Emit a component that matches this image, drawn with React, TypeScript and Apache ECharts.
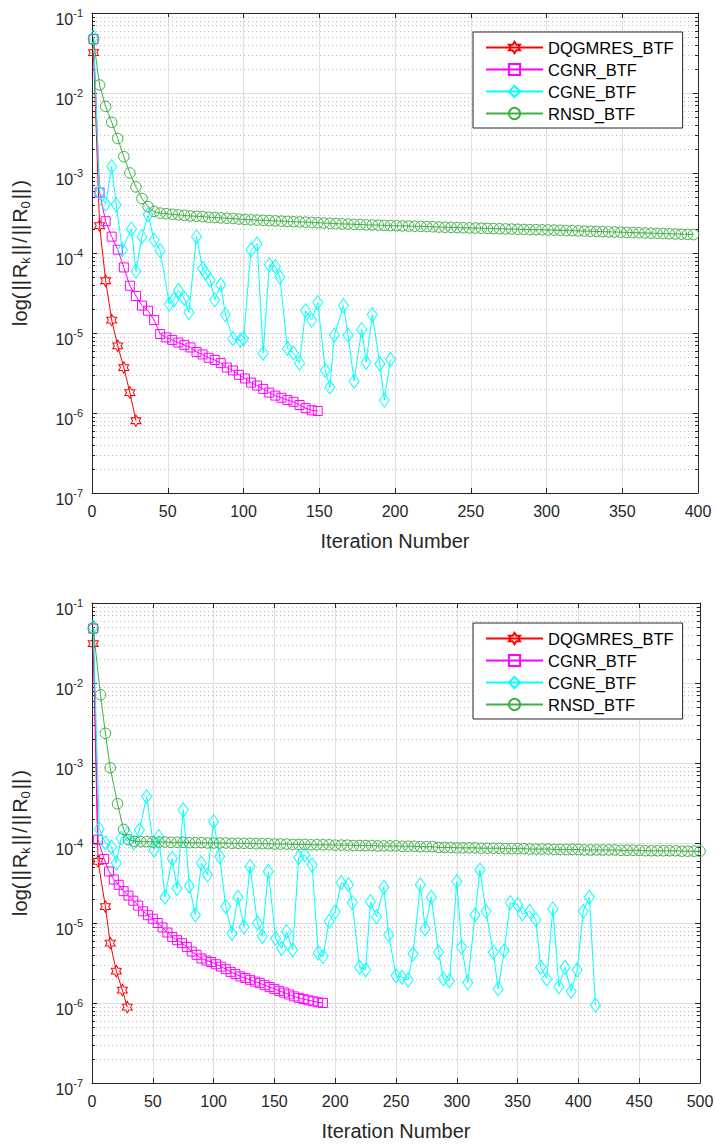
import React, { useEffect, useRef } from "react";
import * as echarts from "echarts";

// ---------- data (iteration, relative residual) ----------
const seriesNames = ["DQGMRES_BTF", "CGNR_BTF", "CGNE_BTF", "RNSD_BTF"];

const topDq: [number, number][] = [
  [1, 3.2e-2], [5, 2.2e-4], [9, 4.5e-5], [13, 1.45e-5], [17, 6.9e-6], [21, 3.7e-6], [25, 1.8e-6], [29, 8.0e-7],
];

const topCgnr: [number, number][] = [
  [1, 4.7e-2], [5, 5.7e-4], [9, 2.5e-4], [13, 1.6e-4], [17, 1.1e-4], [21, 6.6e-5], [25, 3.9e-5], [29, 2.9e-5],
  [33, 2.2e-5], [37, 1.9e-5], [41, 1.45e-5], [45, 9.7e-6], [49, 8.8e-6], [53, 8.2e-6], [57, 7.6e-6], [61, 7.1e-6],
  [65, 6.6e-6], [69, 5.8e-6], [73, 5.4e-6], [77, 4.9e-6], [81, 4.6e-6], [85, 4.2e-6], [89, 3.7e-6], [93, 3.4e-6],
  [97, 3.0e-6], [101, 2.7e-6], [105, 2.4e-6], [109, 2.2e-6], [113, 2.0e-6], [117, 1.8e-6], [121, 1.65e-6],
  [125, 1.55e-6], [129, 1.45e-6], [133, 1.38e-6], [137, 1.26e-6], [141, 1.15e-6], [145, 1.08e-6], [149, 1.06e-6],
];

const topCgne: [number, number][] = [
  [1, 5e-2], [5, 5.7e-4], [9, 4.1e-4], [13, 1.2e-3], [16, 4e-4], [20, 1.1e-4], [26, 2.0e-4], [29, 5.9e-5],
  [33, 1.6e-4], [37, 3.0e-4], [41, 1.45e-4], [45, 1.07e-4], [51, 2.3e-5], [54, 2.6e-5], [57, 3.4e-5], [61, 2.7e-5],
  [64, 1.8e-5], [69, 1.6e-4], [73, 6.4e-5], [75, 5.6e-5], [78, 4.6e-5], [81, 2.6e-5], [85, 4.0e-5], [88, 1.7e-5],
  [93, 8.5e-6], [98, 8.1e-6], [100, 8.5e-6], [105, 1.1e-4], [109, 1.3e-4], [113, 5.6e-6], [117, 7.1e-5],
  [121, 6.8e-5], [124, 5.0e-5], [129, 6.4e-6], [133, 5.6e-6], [137, 4.2e-6], [141, 1.9e-5], [145, 1.45e-5],
  [149, 2.4e-5], [154, 3.4e-6], [157, 2.1e-6], [160, 9.4e-6], [166, 2.2e-5], [169, 9.4e-6], [173, 2.5e-6],
  [178, 1.1e-5], [181, 4.3e-6], [185, 1.7e-5], [190, 4.1e-6], [193, 1.45e-6], [197, 4.7e-6],
];

const topRnsd: [number, number][] = [
  [1, 4.7e-2], [5, 1.26e-2], [9, 6.8e-3], [13, 4.3e-3], [17, 2.7e-3], [21, 1.6e-3], [25, 1.0e-3], [29, 6.7e-4],
  [33, 4.8e-4], [37, 3.8e-4], [41, 3.3e-4], [45, 3.15e-4], [49, 3.1e-4], [53, 3.05e-4], [57, 3.0e-4], [61, 2.95e-4],
  [65, 2.9e-4], [69, 2.88e-4], [73, 2.85e-4], [77, 2.8e-4], [81, 2.78e-4], [85, 2.75e-4], [89, 2.72e-4], [93, 2.7e-4],
  [97, 2.66e-4], [101, 2.62e-4], [105, 2.6e-4], [109, 2.58e-4], [113, 2.56e-4], [117, 2.54e-4], [121, 2.52e-4],
  [125, 2.5e-4], [129, 2.48e-4], [133, 2.46e-4], [137, 2.45e-4], [141, 2.43e-4], [145, 2.41e-4], [149, 2.39e-4],
  [153, 2.37e-4], [157, 2.35e-4], [161, 2.33e-4], [165, 2.31e-4], [169, 2.3e-4], [173, 2.28e-4], [177, 2.27e-4],
  [181, 2.25e-4], [185, 2.24e-4], [189, 2.23e-4], [193, 2.21e-4], [197, 2.2e-4], [201, 2.19e-4], [205, 2.18e-4],
  [209, 2.17e-4], [213, 2.16e-4], [217, 2.15e-4], [221, 2.14e-4], [225, 2.13e-4], [229, 2.11e-4], [233, 2.1e-4],
  [237, 2.09e-4], [241, 2.08e-4], [245, 2.07e-4], [249, 2.06e-4], [253, 2.05e-4], [257, 2.04e-4], [261, 2.03e-4],
  [265, 2.02e-4], [269, 2.01e-4], [273, 2.0e-4], [277, 1.99e-4], [281, 1.98e-4], [285, 1.97e-4], [289, 1.96e-4],
  [293, 1.96e-4], [297, 1.95e-4], [301, 1.94e-4], [305, 1.93e-4], [309, 1.92e-4], [313, 1.91e-4], [317, 1.9e-4],
  [321, 1.89e-4], [325, 1.88e-4], [329, 1.87e-4], [333, 1.86e-4], [337, 1.85e-4], [341, 1.84e-4], [345, 1.83e-4],
  [349, 1.82e-4], [353, 1.81e-4], [357, 1.8e-4], [361, 1.79e-4], [365, 1.78e-4], [369, 1.77e-4], [373, 1.76e-4],
  [377, 1.75e-4], [381, 1.74e-4], [385, 1.73e-4], [389, 1.72e-4], [393, 1.71e-4], [397, 1.7e-4],
];

const botDq: [number, number][] = [
  [1, 3.1e-2], [5, 5.9e-5], [11, 1.6e-5], [15, 5.6e-6], [20, 2.5e-6], [25, 1.45e-6], [29, 8.9e-7],
];

const botCgnr: [number, number][] = [
  [1, 4.8e-2], [5, 1.1e-4], [10, 6.3e-5], [14, 4.4e-5], [18, 3.5e-5], [22, 3.0e-5], [26, 2.5e-5], [30, 2.2e-5],
  [34, 1.9e-5], [38, 1.65e-5], [42, 1.4e-5], [46, 1.25e-5], [50, 1.13e-5], [54, 1.0e-5], [58, 8.8e-6], [62, 7.6e-6],
  [66, 6.7e-6], [70, 6.1e-6], [74, 5.6e-6], [78, 5.0e-6], [82, 4.4e-6], [86, 4.0e-6], [90, 3.6e-6], [94, 3.4e-6],
  [98, 3.25e-6], [102, 3.05e-6], [106, 2.85e-6], [110, 2.65e-6], [114, 2.45e-6], [118, 2.3e-6], [122, 2.15e-6],
  [126, 2.05e-6], [130, 1.95e-6], [134, 1.85e-6], [138, 1.77e-6], [142, 1.67e-6], [146, 1.58e-6], [150, 1.5e-6],
  [154, 1.42e-6], [158, 1.35e-6], [162, 1.28e-6], [166, 1.21e-6], [170, 1.16e-6], [174, 1.12e-6], [178, 1.08e-6],
  [182, 1.05e-6], [186, 1.02e-6], [190, 1.0e-6],
];

const botCgne: [number, number][] = [
  [1, 5e-2], [6, 1.5e-4], [11, 1.0e-4], [16, 8.9e-5], [20, 5.6e-5], [24, 1.15e-4], [29, 1.3e-4], [34, 1.0e-4],
  [39, 1.45e-4], [45, 3.8e-4], [51, 8.2e-5], [55, 1.2e-4], [60, 2.1e-5], [66, 6.4e-5], [70, 2.7e-5], [75, 2.6e-4],
  [80, 2.9e-5], [85, 1.26e-5], [90, 5.6e-5], [95, 4.0e-5], [100, 1.85e-4], [105, 6.8e-5], [110, 1.6e-5],
  [115, 7.4e-6], [120, 2.1e-5], [125, 8.9e-6], [130, 5.1e-5], [136, 1.0e-5], [140, 6.8e-6], [145, 4.4e-5],
  [151, 6.4e-6], [156, 4.8e-6], [160, 7.8e-6], [165, 4.6e-6], [170, 6.6e-5], [175, 7.1e-5], [181, 5.3e-5],
  [186, 4.2e-6], [190, 3.8e-6], [195, 1.05e-5], [200, 1.38e-5], [205, 3.2e-5], [211, 3.0e-5], [214, 1.8e-5],
  [220, 2.8e-6], [225, 2.6e-6], [229, 1.85e-5], [234, 1.2e-5], [240, 2.8e-5], [244, 7.1e-6], [250, 2.2e-6],
  [255, 2.1e-6], [260, 1.95e-6], [264, 4.1e-6], [270, 3.0e-5], [274, 8.5e-6], [279, 2.1e-5], [285, 4.3e-6],
  [289, 2.0e-6], [294, 1.9e-6], [300, 3.3e-5], [304, 5.0e-6], [309, 1.8e-6], [315, 1.26e-5], [319, 4.6e-5],
  [324, 1.4e-5], [330, 4.3e-6], [334, 1.5e-6], [339, 4.5e-6], [344, 1.8e-5], [350, 1.7e-5], [354, 1.3e-5],
  [360, 1.4e-5], [365, 1.1e-5], [369, 2.8e-6], [374, 2.0e-6], [379, 1.5e-5], [384, 1.6e-6], [389, 2.8e-6],
  [394, 1.4e-6], [399, 2.6e-6], [404, 1.4e-5], [409, 2.1e-5], [414, 9.4e-7],
];

const botRnsd: [number, number][] = [
  [1, 4.8e-2], [7, 7.1e-3], [11, 2.35e-3], [15, 8.7e-4], [21, 3.1e-4], [26, 1.48e-4], [30, 1.1e-4], [35, 1.05e-4],
  [40, 1.04e-4], [45, 1.04e-4], [50, 1.03e-4], [55, 1.03e-4], [60, 1.03e-4], [65, 1.02e-4], [70, 1.02e-4],
  [75, 1.02e-4], [80, 1.01e-4], [85, 1.01e-4], [90, 1.01e-4], [95, 1.0e-4], [100, 1.0e-4], [105, 1.0e-4],
  [110, 1.0e-4], [115, 9.9e-5], [120, 9.9e-5], [125, 9.9e-5], [130, 9.9e-5], [135, 9.8e-5], [140, 9.8e-5],
  [145, 9.8e-5], [150, 9.7e-5], [155, 9.7e-5], [160, 9.7e-5], [165, 9.6e-5], [170, 9.6e-5], [175, 9.6e-5],
  [180, 9.5e-5], [185, 9.5e-5], [190, 9.5e-5], [195, 9.5e-5], [200, 9.4e-5], [205, 9.4e-5], [210, 9.4e-5],
  [215, 9.3e-5], [220, 9.3e-5], [225, 9.3e-5], [230, 9.3e-5], [235, 9.2e-5], [240, 9.2e-5], [245, 9.2e-5],
  [250, 9.2e-5], [255, 9.1e-5], [260, 9.1e-5], [265, 9.1e-5], [270, 9.0e-5], [275, 9.0e-5], [280, 9.0e-5],
  [285, 8.8e-5], [290, 8.8e-5], [295, 8.8e-5], [300, 8.7e-5], [305, 8.7e-5], [310, 8.7e-5], [315, 8.7e-5],
  [320, 8.6e-5], [325, 8.6e-5], [330, 8.6e-5], [335, 8.6e-5], [340, 8.5e-5], [345, 8.5e-5], [350, 8.5e-5],
  [355, 8.5e-5], [360, 8.4e-5], [365, 8.4e-5], [370, 8.4e-5], [375, 8.4e-5], [380, 8.3e-5], [385, 8.3e-5],
  [390, 8.3e-5], [395, 8.3e-5], [400, 8.3e-5], [405, 8.2e-5], [410, 8.2e-5], [415, 8.2e-5], [420, 8.2e-5],
  [425, 8.2e-5], [430, 8.2e-5], [435, 8.1e-5], [440, 8.1e-5], [445, 8.1e-5], [450, 8.1e-5], [455, 8.0e-5],
  [460, 8.0e-5], [465, 8.0e-5], [470, 8.0e-5], [475, 8.0e-5], [480, 8.0e-5], [485, 7.9e-5], [490, 7.9e-5],
  [495, 7.9e-5], [500, 7.9e-5],
];

const xMaxes = [400, 500];
const yRange = [1e-7, 1e-1];

// ---------- styling ----------
const FONT = '"Liberation Sans", Arial, Helvetica, sans-serif';
const AXIS = "#262626";
const COLORS = ["#ff0000", "#ff00ff", "#00ffff", "#3cb043"];
const HEXAGRAM =
  "path://M0,-10L2.887,-5L8.66,-5L5.774,0L8.66,5L2.887,5L0,10L-2.887,5L-8.66,5L-5.774,0L-8.66,-5L-2.887,-5Z";
const SYMBOLS: any[] = [HEXAGRAM, "rect", "diamond", "circle"];
const SIZES: any[] = [[10, 11.5], 9, [10, 14], 10.5];

const grids = [
  { left: 92, top: 13, width: 606, height: 480 },
  { left: 92, top: 603, width: 608, height: 480 },
];

function minorValues(): number[] {
  const out: number[] = [];
  for (let d = -7; d <= -2; d++) {
    for (let m = 2; m <= 9; m++) out.push(Number((m * Math.pow(10, d)).toPrecision(3)));
  }
  return out;
}

function lineSeries(name: string, idx: number, data: [number, number][], g: number) {
  const c = COLORS[idx];
  return {
    type: "line",
    name,
    xAxisIndex: g * 2,
    yAxisIndex: g * 2,
    data,
    symbol: SYMBOLS[idx],
    symbolSize: SIZES[idx],
    showSymbol: true,
    showAllSymbol: true,
    lineStyle: { color: c, width: 1 },
    itemStyle: { color: "rgba(255,255,255,0)", borderColor: c, borderWidth: 1 },
    emphasis: { disabled: true },
    z: 3 + idx,
  };
}

function minorSeries(g: number) {
  return {
    type: "custom",
    xAxisIndex: g * 2,
    yAxisIndex: g * 2,
    silent: true,
    z: 1,
    data: minorValues().map((v) => [0, v]),
    renderItem: (params: any, api: any) => {
      const cs = params.coordSys;
      const y = Math.round(api.coord([0, api.value(1)])[1]) + 0.5;
      return {
        type: "group",
        children: [
          {
            type: "line",
            shape: { x1: cs.x, y1: y, x2: cs.x + cs.width, y2: y },
            style: { stroke: "#bdbdbd", lineWidth: 1, lineDash: [1, 3] },
          },
          {
            type: "line",
            shape: { x1: cs.x, y1: y, x2: cs.x + 3, y2: y },
            style: { stroke: AXIS, lineWidth: 1 },
          },
          {
            type: "line",
            shape: { x1: cs.x + cs.width - 3, y1: y, x2: cs.x + cs.width, y2: y },
            style: { stroke: AXIS, lineWidth: 1 },
          },
        ],
      };
    },
  };
}

function buildOption() {
  const xAxis: any[] = [];
  const yAxis: any[] = [];
  const axisLine = { show: true, onZero: false, lineStyle: { color: AXIS, width: 1 } };
  const tick = { show: true, inside: true, length: 5, lineStyle: { color: AXIS, width: 1 } };
  grids.forEach((_, g) => {
    xAxis.push({
      type: "value",
      gridIndex: g,
      min: 0,
      max: xMaxes[g],
      interval: 50,
      position: "bottom",
      axisLine,
      axisTick: tick,
      axisLabel: { color: AXIS, fontSize: 16, fontFamily: FONT, margin: 10 },
      splitLine: { show: true, lineStyle: { color: "#dfdfdf", width: 1 } },
      name: "Iteration Number",
      nameLocation: "middle",
      nameGap: 38,
      nameTextStyle: { color: AXIS, fontSize: 20, fontFamily: FONT },
    });
    xAxis.push({
      type: "value",
      gridIndex: g,
      min: 0,
      max: xMaxes[g],
      interval: 50,
      position: "top",
      axisLine,
      axisTick: tick,
      axisLabel: { show: false },
      splitLine: { show: false },
    });
    yAxis.push({
      type: "log",
      logBase: 10,
      gridIndex: g,
      min: yRange[0],
      max: yRange[1],
      position: "left",
      axisLine,
      axisTick: tick,
      axisLabel: {
        margin: 9,
        formatter: (v: number) => `{b|10}{s|${Math.round(Math.log10(v))}}`,
        rich: {
          b: { fontSize: 16, lineHeight: 16, verticalAlign: "bottom", color: AXIS, fontFamily: FONT },
          s: { fontSize: 11, lineHeight: 28, verticalAlign: "middle", color: AXIS, fontFamily: FONT },
        },
      },
      splitLine: { show: true, lineStyle: { color: "#dfdfdf", width: 1 } },
      name: "{n|log(}{p|||}{n|R}{s|k}{p|||}{n|/}{p|||}{n|R}{s|0}{p|||}{n|)}",
      nameLocation: "middle",
      nameGap: 62,
      nameRotate: 90,
      nameTextStyle: {
        rich: {
          n: { fontSize: 20, lineHeight: 20, verticalAlign: "top", color: AXIS, fontFamily: FONT },
          p: { fontSize: 20, lineHeight: 20, verticalAlign: "top", padding: [0, 2, 0, 2], color: AXIS, fontFamily: FONT },
          s: { fontSize: 13, lineHeight: 13, padding: [9, 0, 0, 0], verticalAlign: "top", color: AXIS, fontFamily: FONT },
        },
      },
    });
    yAxis.push({
      type: "log",
      logBase: 10,
      gridIndex: g,
      min: yRange[0],
      max: yRange[1],
      position: "right",
      axisLine,
      axisTick: tick,
      axisLabel: { show: false },
      splitLine: { show: false },
    });
  });

  const legendBase = {
    data: seriesNames,
    orient: "vertical",
    left: 473,
    padding: [7, 9, 6, 12],
    itemWidth: 57,
    itemHeight: 14,
    itemGap: 5,
    backgroundColor: "#ffffff",
    borderColor: AXIS,
    borderWidth: 1,
    borderRadius: 0,
    selectedMode: false,
    textStyle: { fontSize: 16.5, color: "#000000", fontFamily: FONT },
  };

  const tops = [topDq, topCgnr, topCgne, topRnsd];
  const bots = [botDq, botCgnr, botCgne, botRnsd];
  const series: any[] = [minorSeries(0), minorSeries(1)];
  tops.forEach((d, i) => series.push(lineSeries(seriesNames[i], i, d, 0)));
  bots.forEach((d, i) => series.push(lineSeries(seriesNames[i], i, d, 1)));

  return {
    animation: false,
    backgroundColor: "#ffffff",
    grid: grids.map((g) => ({ ...g, containLabel: false, outerBoundsMode: "none" })),
    xAxis,
    yAxis,
    legend: [
      { ...legendBase, top: 32 },
      { ...legendBase, top: 623 },
    ],
    series,
  };
}

export default function App() {
  const ref = useRef<HTMLDivElement>(null);
  useEffect(() => {
    if (!ref.current) return;
    const chart = echarts.init(ref.current, undefined, { renderer: "svg" });
    chart.setOption(buildOption() as any);
    return () => chart.dispose();
  }, []);
  return (
    <div
      ref={ref}
      style={{ position: "absolute", left: 0, top: 0, width: 716, height: 1146, background: "#fff" }}
    />
  );
}
